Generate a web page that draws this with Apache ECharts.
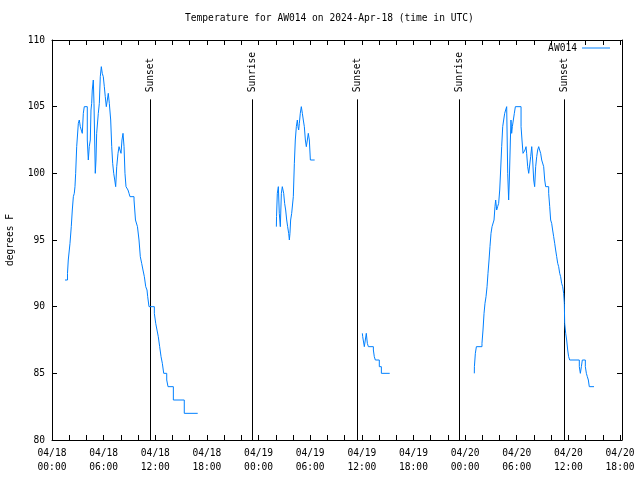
<!DOCTYPE html>
<html><head><meta charset="utf-8">
<script src="https://cdn.jsdelivr.net/npm/echarts@6/dist/echarts.min.js"></script>
<style>html,body{margin:0;padding:0;background:#fff}#c{width:640px;height:480px}</style>
</head><body><div id="c"></div>
<script>
// x values: hours since 2024-04-18 00:00 UTC; y values: degrees F
const xTickLabels = ['04/18\n00:00','04/18\n06:00','04/18\n12:00','04/18\n18:00','04/19\n00:00','04/19\n06:00','04/19\n12:00','04/19\n18:00','04/20\n00:00','04/20\n06:00','04/20\n12:00','04/20\n18:00'];
const xLabelHours = [0, 6, 12, 18, 24, 30, 36, 42, 48, 54, 60, 66];
const xTickHours = [0,2,4,6,8,10,12,14,16,18,20,22,24,26,28,30,32,34,36,38,40,42,44,46,48,50,52,54,56,58,60,62,64,66];
const yTicks = [80, 85, 90, 95, 100, 105, 110];

const sunHours = [11.42, 23.28, 35.48, 47.37, 59.53];
const sunLabels = ['Sunset', 'Sunrise', 'Sunset', 'Sunrise', 'Sunset'];
const sunLineTop = 105.55;

const seg1 = [[1.51,92],[1.80,92.5],[1.89,93.5],[2.01,94.25],[2.09,94.75],[2.24,96],[2.36,97.25],[2.48,98.25],[2.59,98.5],[2.67,99],[2.75,100],[2.87,102],[3.06,103.75],[3.17,104],[3.29,103.5],[3.40,103.25],[3.52,103],[3.64,104.5],[3.75,105],[4.10,102.5],[4.22,101],[4.33,102],[4.45,102.5],[4.53,104.75],[4.61,105.25],[4.68,106.25],[4.80,107],[4.88,105.25],[5.03,100],[5.11,101],[5.19,103],[5.38,104.5],[5.50,105.25],[5.61,107.25],[5.73,108],[5.84,107.5],[5.96,107.25],[6.08,106.5],[6.19,105.75],[6.31,105],[6.43,105.5],[6.54,106],[6.66,105.25],[6.82,104],[6.94,102],[7.05,100.75],[7.17,100],[7.29,99.5],[7.40,99],[7.52,100.5],[7.67,101.5],[7.79,102],[7.90,101.75],[8.02,101.5],[8.13,102.5],[8.25,103],[8.37,102],[8.48,100],[8.60,99],[8.83,98.75],[8.95,98.5],[9.06,98.25],[9.53,98],[9.70,96.5],[9.93,96],[10.11,95],[10.26,93.75],[10.42,93.25],[10.57,92.75],[10.73,92.25],[10.89,91.5],[11.04,91.25],[11.12,90.75],[11.27,90],[11.89,89.5],[12.05,88.75],[12.20,88.25],[12.35,87.75],[12.51,87],[12.67,86.25],[12.82,85.75],[12.98,85],[13.33,84.5],[13.48,84],[14.10,83],[15.37,82],[16.93,82]];
const seg2 = [[26.07,96],[26.09,96.75],[26.18,98.5],[26.30,99],[26.41,97],[26.53,96],[26.65,98.5],[26.76,99],[26.84,98.75],[26.92,98.5],[27.03,97.75],[27.15,97.25],[27.27,96.5],[27.38,96],[27.50,95.5],[27.58,95],[27.65,95.5],[27.73,96.5],[27.85,97],[28.04,98.25],[28.16,100.75],[28.27,102.5],[28.39,103.5],[28.51,104],[28.58,103.5],[28.66,103.25],[28.74,103.75],[28.85,104.5],[28.97,105],[29.09,104.5],[29.20,104],[29.32,103.5],[29.44,102.5],[29.55,102],[29.67,102.5],[29.78,103],[29.90,102.5],[30.02,101],[30.52,101]];
const seg3 = [[36.06,88],[36.10,87.75],[36.29,87],[36.52,88],[36.64,87.25],[36.76,87],[37.34,86.75],[37.45,86.25],[37.57,86],[38.03,85.5],[38.27,85],[39.24,85]];
const seg4 = [[49.07,85],[49.08,85.5],[49.19,86.5],[49.31,87],[49.96,87.25],[50.08,88.25],[50.20,89.5],[50.31,90.25],[50.43,90.75],[50.55,91.5],[50.66,92.5],[50.78,93.5],[50.89,94.5],[51.01,95.5],[51.13,96],[51.36,96.5],[51.47,97.5],[51.55,98],[51.67,97.25],[51.78,97.5],[51.90,97.75],[52.02,98.75],[52.13,100.25],[52.25,102],[52.37,103.5],[52.48,104],[52.60,104.5],[52.71,104.75],[52.83,105],[52.95,100],[53.06,98],[53.14,99.5],[53.26,102.5],[53.33,104],[53.41,103],[53.49,103.5],[53.72,104.5],[53.84,105],[54.50,103.5],[54.61,102.5],[54.73,101.5],[54.96,101.75],[55.08,102],[55.15,101.5],[55.27,100.5],[55.39,100],[55.62,101.25],[55.74,102],[55.85,101],[55.97,99.5],[56.08,99],[56.20,100.5],[56.32,101.25],[56.43,101.75],[56.55,102],[56.66,101.75],[56.78,101.5],[56.90,101],[57.13,100.5],[57.25,99.5],[57.36,99],[57.71,98.5],[57.83,97.5],[57.94,96.5],[58.06,96.25],[58.17,95.75],[58.29,95.25],[58.41,94.75],[58.52,94.25],[58.64,93.75],[58.76,93.25],[58.87,93],[58.99,92.5],[59.10,92.25],[59.22,91.75],[59.34,91.5],[59.45,91],[59.53,90.25],[59.57,88.75],[59.69,88],[59.80,87.5],[59.92,86.75],[60.03,86.25],[60.15,86],[61.27,85.5],[61.39,85],[61.51,85.5],[61.62,86],[61.97,85.5],[62.09,85],[62.20,84.75],[62.32,84.5],[62.43,84],[62.98,84]];

const FONT = '"DejaVu Sans Mono", monospace';
const FS = 9.6;
const LINE_COLOR = '#0080ff';
const X_MAX = 66.23;

const tickCommon = {
  axisLine: {show: true, onZero: false, lineStyle: {color: '#000', width: 1}},
  splitLine: {show: false}
};
const xTick = {show: true, inside: true, length: 5, customValues: xTickHours, lineStyle: {color: '#000', width: 1}};
const yTick = {show: true, inside: true, length: 5, lineStyle: {color: '#000', width: 1}};

const tempSeries = [seg1, seg2, seg3, seg4].map(seg => ({
  name: 'AW014', type: 'line', step: 'end', showSymbol: false, symbol: 'none',
  data: seg, lineStyle: {color: LINE_COLOR, width: 1}, itemStyle: {color: LINE_COLOR}, z: 3
}));

const chart = echarts.init(document.getElementById('c'), null, {renderer: 'canvas'});
chart.setOption({
  animation: false,
  backgroundColor: '#fff',
  title: {
    text: 'Temperature for AW014 on 2024-Apr-18 (time in UTC)',
    left: 185, top: 13, padding: 0,
    textStyle: {fontFamily: FONT, fontSize: FS, fontWeight: 'normal', color: '#000'}
  },
  legend: {
    data: ['AW014'], right: 30, top: 43, padding: 0,
    icon: 'rect', itemWidth: 28, itemHeight: 1, align: 'right',
    textStyle: {fontFamily: FONT, fontSize: FS, color: '#000'}
  },
  grid: {left: 52, right: 18, top: 40, bottom: 40, containLabel: false, outerBoundsMode: 'none'},
  xAxis: [
    Object.assign({}, tickCommon, {
      type: 'value', min: 0, max: X_MAX, position: 'bottom',
      axisTick: xTick,
      axisLabel: {
        customValues: xLabelHours,
        formatter: v => xTickLabels[xLabelHours.indexOf(Math.round(v))] || '',
        fontFamily: FONT, fontSize: FS, color: '#000', lineHeight: 14, margin: 6
      }
    }),
    Object.assign({}, tickCommon, {
      type: 'value', min: 0, max: X_MAX, position: 'top',
      axisTick: xTick,
      axisLabel: {show: false}
    })
  ],
  yAxis: [
    Object.assign({}, tickCommon, {
      type: 'value', min: yTicks[0], max: yTicks[yTicks.length - 1], interval: 5, position: 'left',
      axisTick: yTick,
      name: 'degrees F', nameLocation: 'middle', nameGap: 37,
      nameTextStyle: {fontFamily: FONT, fontSize: FS, color: '#000'},
      axisLabel: {fontFamily: FONT, fontSize: FS, color: '#000', margin: 7}
    }),
    Object.assign({}, tickCommon, {
      type: 'value', min: yTicks[0], max: yTicks[yTicks.length - 1], interval: 5, position: 'right',
      axisTick: yTick,
      axisLabel: {show: false}
    })
  ],
  series: tempSeries.concat([
    {
      name: 'sun', type: 'custom', data: sunHours.map(h => [h, 80]),
      encode: {x: 0, y: 1}, z: 2, silent: true,
      renderItem: (params, api) => {
        const h = api.value(0);
        const top = api.coord([h, sunLineTop]);
        const bot = api.coord([h, 80]);
        const x = Math.floor(top[0]) + 0.5;
        return {
          type: 'group',
          children: [
            {type: 'line', shape: {x1: x, y1: top[1], x2: x, y2: bot[1]}, style: {stroke: '#000', lineWidth: 1}},
            {type: 'text', x: x, y: top[1] - 7, rotation: Math.PI / 2,
             style: {text: sunLabels[params.dataIndex], fill: '#000', font: FS + 'px "DejaVu Sans Mono"', align: 'left', verticalAlign: 'middle'}}
          ]
        };
      }
    }
  ])
});
</script>
</body></html>
